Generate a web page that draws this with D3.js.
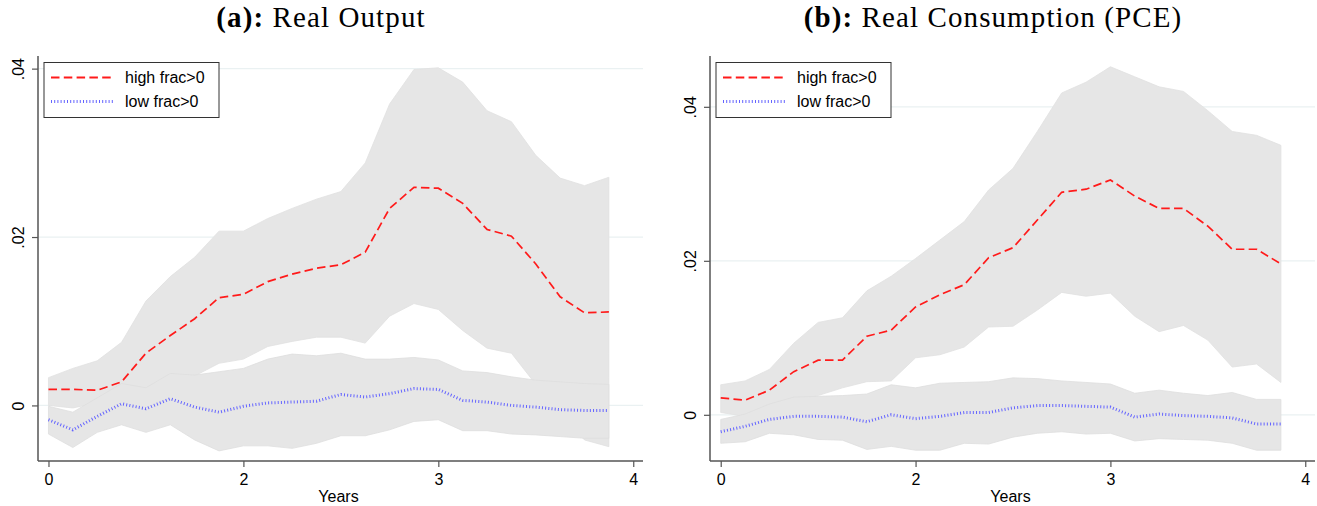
<!DOCTYPE html>
<html>
<head>
<meta charset="utf-8">
<script src="https://cdn.jsdelivr.net/npm/d3@7"></script>
<style>
  body { margin: 0; background: #fff; }
  svg { display: block; }
  .tick text { font-family: "Liberation Sans", Arial, sans-serif; }
</style>
</head>
<body>
<div id="chart"></div>
<script>
// horizon steps (plotted on an evenly spaced axis)
var steps = [0, 1, 2, 3, 4, 5, 6, 7, 8, 9, 10, 11, 12, 13, 14, 15, 16, 17, 18, 19, 20, 21, 22, 23];
var xTickSteps = [0, 8, 16, 24];
var xTickLabels = ["0", "2", "3", "4"];
var yTicks = [0, 0.02, 0.04];
var yTickLabels = ["0", ".02", ".04"];
var seriesNames = ["high frac>0", "low frac>0"];

// (a) Real Output
var outHigh = [0.0019, 0.0019, 0.0018, 0.0028, 0.0062, 0.0083, 0.0103, 0.0128, 0.0132, 0.0147, 0.0156, 0.0163,
               0.0167, 0.0182, 0.0234, 0.0259, 0.0258, 0.0240, 0.0209, 0.0201, 0.0168, 0.0129, 0.0110, 0.0111];
var outHighUp = [0.0033, 0.0044, 0.0053, 0.0075, 0.0124, 0.0153, 0.0176, 0.0207, 0.0207, 0.0222, 0.0234, 0.0245,
                 0.0254, 0.0288, 0.0358, 0.0399, 0.0401, 0.0384, 0.0350, 0.0337, 0.0297, 0.0270, 0.0261, 0.0271];
var outHighLo = [0.0000, -0.0003, 0.0003, 0.0012, 0.0020, 0.0028, 0.0035, 0.0050, 0.0055, 0.0070, 0.0076, 0.0081,
                 0.0081, 0.0074, 0.0106, 0.0121, 0.0114, 0.0089, 0.0068, 0.0062, 0.0025, -0.0010, -0.0041, -0.0049];
var outLow = [-0.0017, -0.0029, -0.0013, 0.0002, -0.0004, 0.0008, -0.0002, -0.0008, -0.0001, 0.0003, 0.0004, 0.0005,
              0.0013, 0.0010, 0.0014, 0.0020, 0.0019, 0.0006, 0.0004, 0.0000, -0.0002, -0.0005, -0.0006, -0.0006];
var outLowUp = [-0.0001, -0.0008, 0.0009, 0.0026, 0.0021, 0.0038, 0.0036, 0.0040, 0.0044, 0.0055, 0.0061, 0.0059,
                0.0062, 0.0055, 0.0055, 0.0057, 0.0054, 0.0041, 0.0039, 0.0034, 0.0030, 0.0028, 0.0026, 0.0025];
var outLowLo = [-0.0034, -0.0050, -0.0032, -0.0023, -0.0032, -0.0023, -0.0041, -0.0054, -0.0048, -0.0048, -0.0051, -0.0045,
                -0.0036, -0.0036, -0.0029, -0.0019, -0.0017, -0.0030, -0.0030, -0.0034, -0.0035, -0.0037, -0.0039, -0.0039];

// (b) Real Consumption (PCE)
var pceHigh = [0.0022, 0.0019, 0.0032, 0.0056, 0.0071, 0.0071, 0.0102, 0.0110, 0.0140, 0.0156, 0.0169, 0.0204,
               0.0217, 0.0253, 0.0289, 0.0293, 0.0305, 0.0284, 0.0268, 0.0268, 0.0245, 0.0215, 0.0215, 0.0196];
var pceHighUp = [0.0039, 0.0044, 0.0059, 0.0093, 0.0120, 0.0126, 0.0161, 0.0180, 0.0203, 0.0227, 0.0251, 0.0292,
                 0.0320, 0.0368, 0.0418, 0.0432, 0.0452, 0.0439, 0.0426, 0.0420, 0.0395, 0.0368, 0.0363, 0.0350];
var pceHighLo = [0.0003, -0.0002, 0.0005, 0.0015, 0.0025, 0.0035, 0.0043, 0.0044, 0.0074, 0.0078, 0.0088, 0.0114,
                 0.0115, 0.0136, 0.0159, 0.0154, 0.0158, 0.0128, 0.0108, 0.0116, 0.0097, 0.0062, 0.0066, 0.0042];
var pceLow = [-0.0022, -0.0015, -0.0006, -0.0002, -0.0002, -0.0003, -0.0009, 0.0000, -0.0005, -0.0002, 0.0003, 0.0003,
              0.0009, 0.0012, 0.0012, 0.0011, 0.0010, -0.0003, 0.0001, -0.0001, -0.0002, -0.0004, -0.0012, -0.0012];
var pceLowUp = [-0.0006, 0.0001, 0.0014, 0.0023, 0.0024, 0.0025, 0.0027, 0.0039, 0.0035, 0.0041, 0.0042, 0.0043,
                0.0048, 0.0047, 0.0044, 0.0042, 0.0040, 0.0028, 0.0032, 0.0028, 0.0025, 0.0029, 0.0020, 0.0020];
var pceLowLo = [-0.0037, -0.0035, -0.0024, -0.0026, -0.0032, -0.0033, -0.0045, -0.0041, -0.0046, -0.0046, -0.0037, -0.0038,
                -0.0029, -0.0024, -0.0022, -0.0025, -0.0024, -0.0034, -0.0031, -0.0032, -0.0033, -0.0037, -0.0046, -0.0046];

var svgWidth = 1317;
var svgHeight = 506;

var svg = d3.select("#chart")
  .append("svg")
  .attr("width", svgWidth)
  .attr("height", svgHeight);

var panels = [
  { tag: "(a):", title: " Real Output", titleX: 321,
    left: 38, right: 643, xDomain: [-0.43, 24.4], yDomain: [-0.0066, 0.0415],
    high: outHigh, highUp: outHighUp, highLo: outHighLo, low: outLow, lowUp: outLowUp, lowLo: outLowLo },
  { tag: "(b):", title: " Real Consumption (PCE)", titleX: 993,
    left: 710, right: 1315, xDomain: [-0.44, 24.4], yDomain: [-0.0060, 0.0466],
    high: pceHigh, highUp: pceHighUp, highLo: pceHighLo, low: pceLow, lowUp: pceLowUp, lowLo: pceLowLo }
];

var plotTop = 56, plotBottom = 461;
var axisColor = "#555";
var bandFill = "#e6e6e6";
var redColor = "#ff1a1a";
var blueColor = "#6464ff";
var redDash = "8.5,4.3";
var blueDash = "1,2.2";

panels.forEach(function(p) {
  var x = d3.scaleLinear().domain(p.xDomain).range([p.left, p.right]);
  var y = d3.scaleLinear().domain(p.yDomain).range([plotBottom, plotTop]);
  var g = svg.append("g");

  // gridlines
  g.selectAll("line.grid")
    .data(yTicks)
    .enter()
    .append("line")
    .attr("class", "grid")
    .attr("x1", p.left)
    .attr("x2", p.right)
    .attr("y1", d => y(d))
    .attr("y2", d => y(d))
    .attr("stroke", "#eaf1f2")
    .attr("stroke-width", 1.2);

  // confidence bands
  var area = function(lo, up) {
    return d3.area()
      .x((d, i) => x(steps[i]))
      .y0((d, i) => y(lo[i]))
      .y1((d, i) => y(up[i]));
  };
  g.append("path")
    .datum(steps)
    .attr("d", area(p.highLo, p.highUp))
    .attr("fill", bandFill)
    .attr("stroke", "#e1e1e1")
    .attr("stroke-width", 0.8);
  g.append("path")
    .datum(steps)
    .attr("d", area(p.lowLo, p.lowUp))
    .attr("fill", bandFill)
    .attr("stroke", "#dedede")
    .attr("stroke-width", 0.8);

  var line = d3.line()
    .x((d, i) => x(steps[i]))
    .y(d => y(d));

  g.append("path")
    .datum(p.low)
    .attr("d", line)
    .attr("fill", "none")
    .attr("stroke", blueColor)
    .attr("stroke-width", 3)
    .attr("stroke-dasharray", blueDash);

  g.append("path")
    .datum(p.high)
    .attr("d", line)
    .attr("fill", "none")
    .attr("stroke", redColor)
    .attr("stroke-width", 1.7)
    .attr("stroke-dasharray", redDash);

  // axes
  var bottomAxis = d3.axisBottom(x)
    .tickValues(xTickSteps)
    .tickFormat((d, i) => xTickLabels[i])
    .tickSize(6)
    .tickSizeOuter(0);
  var gx = g.append("g")
    .attr("transform", `translate(0, ${plotBottom})`)
    .call(bottomAxis);
  gx.select(".domain").attr("stroke", axisColor).attr("stroke-width", 1.5)
    .attr("d", `M${p.left},0H${p.right}`);
  gx.selectAll(".tick line").attr("stroke", axisColor).attr("stroke-width", 1.2);
  gx.selectAll(".tick text").attr("font-size", 16).attr("fill", "#000").attr("dy", "0.95em");

  var leftAxis = d3.axisLeft(y)
    .tickValues(yTicks)
    .tickFormat((d, i) => yTickLabels[i])
    .tickSize(6)
    .tickSizeOuter(0);
  var gy = g.append("g")
    .attr("transform", `translate(${p.left}, 0)`)
    .call(leftAxis);
  gy.select(".domain").attr("stroke", axisColor).attr("stroke-width", 1.5)
    .attr("d", `M0,${plotTop}V${plotBottom}`);
  gy.selectAll(".tick line").attr("stroke", axisColor).attr("stroke-width", 1.2);
  gy.selectAll(".tick text")
    .attr("font-size", 16)
    .attr("fill", "#000")
    .attr("x", null)
    .attr("dy", null)
    .attr("text-anchor", "middle")
    .attr("transform", "translate(-14,0) rotate(-90)");

  // axis title
  g.append("text")
    .attr("x", (p.left + p.right) / 2 - 2)
    .attr("y", 502)
    .attr("text-anchor", "middle")
    .attr("font-family", "Liberation Sans, Arial, sans-serif")
    .attr("font-size", 16)
    .text("Years");

  // panel title
  var t = g.append("text")
    .attr("x", p.titleX)
    .attr("y", 27)
    .attr("text-anchor", "middle")
    .attr("font-family", "Liberation Serif, Times New Roman, serif")
    .attr("font-size", 29)
    .attr("letter-spacing", 1.1);
  t.append("tspan").attr("font-weight", "bold").text(p.tag);
  t.append("tspan").text(p.title);

  // legend
  var lx = p.left + 6, ly = 62.5;
  var lg = g.append("g");
  lg.append("rect")
    .attr("x", lx)
    .attr("y", ly)
    .attr("width", 175)
    .attr("height", 55)
    .attr("fill", "#fff")
    .attr("stroke", "#333")
    .attr("stroke-width", 1);
  var styles = [
    { color: redColor, dash: redDash, width: 1.9 },
    { color: blueColor, dash: blueDash, width: 3 }
  ];
  seriesNames.forEach(function(name, i) {
    var ry = ly + 15 + i * 24;
    lg.append("line")
      .attr("x1", lx + 7)
      .attr("x2", lx + 71)
      .attr("y1", ry)
      .attr("y2", ry)
      .attr("stroke", styles[i].color)
      .attr("stroke-width", styles[i].width)
      .attr("stroke-dasharray", styles[i].dash);
    lg.append("text")
      .attr("x", lx + 81)
      .attr("y", ry + 5.5)
      .attr("font-family", "Liberation Sans, Arial, sans-serif")
      .attr("font-size", 16)
      .text(name);
  });
});
</script>
</body>
</html>
